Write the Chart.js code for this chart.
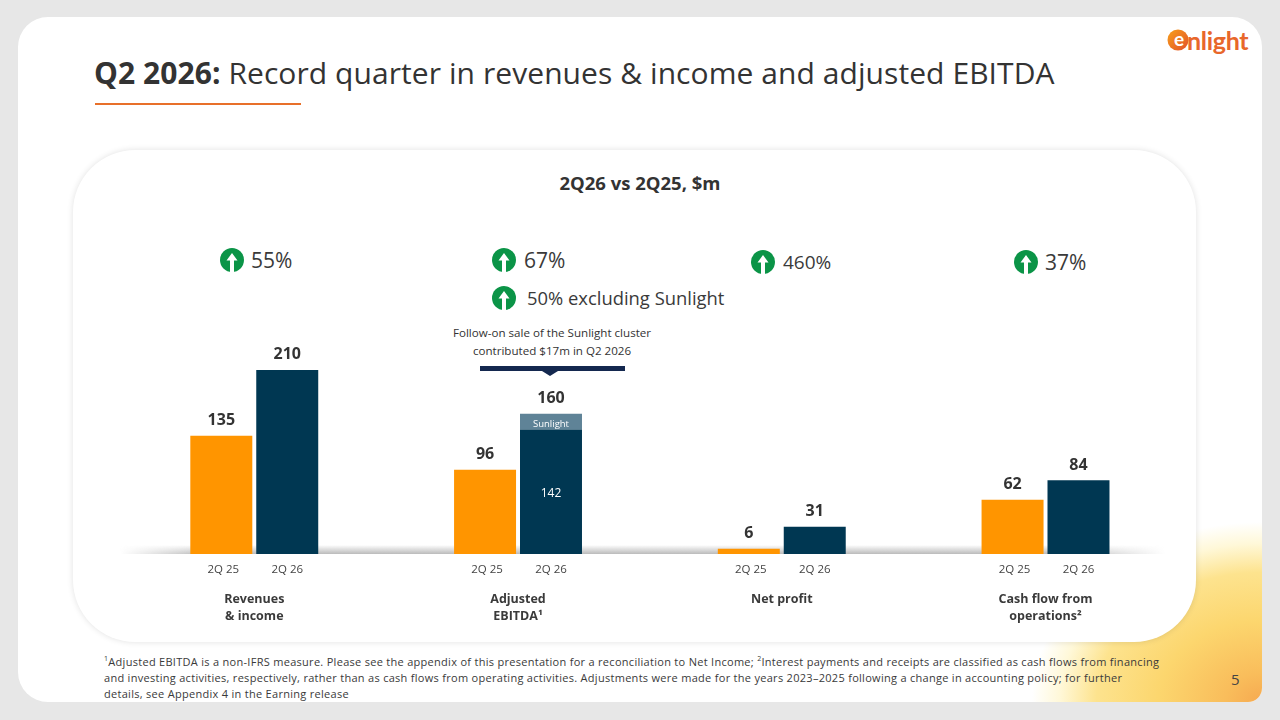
<!DOCTYPE html>
<html>
<head>
<meta charset="utf-8">
<title>Q2 2026</title>
<script src="https://cdn.jsdelivr.net/npm/chart.js@4"></script>
<style>
  html, body { margin: 0; padding: 0; width: 1280px; height: 720px; overflow: hidden; background: #e7e7e7; font-family: "Open Sans", sans-serif; color: #333; }
  .slide { position: absolute; left: 18px; top: 17px; width: 1244px; height: 685px; border-radius: 30px 30px 14px 30px; overflow: hidden; background: #fff; }
  .glow { position: absolute; left: 1014px; top: 505px; width: 230px; height: 180px;
    background: radial-gradient(ellipse 230px 180px at 100% 100%, #f6a950 0%, #f9bd5b 16%, #fcd66e 45%, #fde38e 72%, rgba(255,245,200,.7) 88%, rgba(255,255,255,0) 100%); }
  .card { position: absolute; left: 73px; top: 150px; width: 1123px; height: 492px; border-radius: 62px; background: #fff; box-shadow: 0 0 6px rgba(0,0,0,.12); }
  .baseline { position: absolute; left: 120px; top: 545px; width: 1045px; height: 9px;
    background: linear-gradient(to bottom, rgba(150,150,150,0), rgba(150,150,150,.65));
    -webkit-mask-image: linear-gradient(to right, transparent, #000 8%, #000 90%, transparent); }
  canvas { position: absolute; left: 0; top: 0; }
  .t { position: absolute; white-space: nowrap; }
  .title { left: 94px; top: 52px; font-size: 30px; line-height: 42px; letter-spacing: .07px; color: #333; }
  .rule { position: absolute; left: 95px; top: 103px; width: 206px; height: 2px; background: #e8702a; }
  .sub { left: 440px; width: 400px; top: 171px; text-align: center; font-size: 18.5px; line-height: 24px; font-weight: 700; }
  .pct { font-size: 21px; line-height: 28px; color: #3a3a3a; }
  .note { left: 452px; width: 200px; top: 324px; text-align: center; font-size: 11.6px; line-height: 18px; }
  .foot { left: 104px; top: 654px; font-size: 11px; line-height: 16px; letter-spacing: .29px; color: #3a3a3a; }
  .foot sup { font-size: 7px; line-height: 0; }
  .page { left: 1231px; top: 669px; font-size: 15px; line-height: 20px; color: #444; }
  .logo { left: 1187px; top: 24px; font-family: "Lato", sans-serif; font-weight: 700; font-size: 25px; line-height: 32px; color: #e8672b; letter-spacing: -.3px; }
  svg.ic { position: absolute; }
</style>
</head>
<body>
<div class="slide"><div class="glow"></div></div>
<div class="card"></div>
<div class="baseline"></div>

<div class="t title"><b>Q2 2026:</b> Record quarter in revenues &amp; income and adjusted EBITDA</div>
<div class="rule"></div>
<svg class="ic" style="left:1167px;top:29px" width="22" height="22" viewBox="0 0 22 22">
  <defs><linearGradient id="lg" x1="0" y1="0" x2="1" y2="1"><stop offset="0" stop-color="#f7a01c"/><stop offset="1" stop-color="#e2502a"/></linearGradient></defs>
  <circle cx="11" cy="11" r="10.5" fill="url(#lg)"/>
  <text x="12" y="17" text-anchor="middle" font-family="Lato" font-weight="700" font-size="19" fill="#fff">e</text>
</svg>
<div class="t logo">nlight</div>
<div class="t sub">2Q26 vs 2Q25, $m</div>
<div id="badges"></div>
<div class="t note">Follow-on sale of the Sunlight cluster<br>contributed $17m in Q2 2026</div>
<svg class="ic" style="left:480px;top:366px" width="145" height="11" viewBox="0 0 145 11">
  <path d="M0 0H145V5H78L70 10L62 5H0Z" fill="#14284f"/>
</svg>
<div class="t foot"><sup>1</sup>Adjusted EBITDA is a non-IFRS measure. Please see the appendix of this presentation for a reconciliation to Net Income; <sup>2</sup>Interest payments and receipts are classified as cash flows from financing<br>and investing activities, respectively, rather than as cash flows from operating activities. Adjustments were made for the years 2023–2025 following a change in accounting policy; for further<br>details, see Appendix 4 in the Earning release</div>
<div class="t page">5</div>

<canvas id="chart" width="1280" height="720"></canvas>

<script>
/* ─────────────────────────────────────────────
   Data
───────────────────────────────────────────── */
const categories = [['Revenues', '& income'], ['Adjusted', 'EBITDA¹'], ['Net profit'], ['Cash flow from', 'operations²']];
const periods = ['2Q 25', '2Q 26'];
const prior = [135, 96, 6, 62];
const current = [210, 142, 31, 84];
const sunlight = [0, 18, 0, 0];
const totals = [210, 160, 31, 84];
const growthLabels = ['55%', '67%', '460%', '37%', '50% excluding Sunlight'];
const growthLeft = [251, 524, 783, 1045, 527];
const growthTop = [246, 246, 248, 248, 284];
const growthSize = [21, 21, 19, 21, 18.4];
const iconLeft = [220, 492, 751, 1014, 492];

const colors = { orange: '#ff9500', navy: '#003752', sunlight: '#5f8397', ink: '#333333', green: '#0b9447' };
const fontFamily = '"Open Sans", sans-serif';

/* ─────────────────────────────────────────────
   Growth badges
───────────────────────────────────────────── */
const badges = document.getElementById('badges');
growthLabels.forEach((label, i) => {
  const mid = growthTop[i] + 14;
  badges.insertAdjacentHTML('beforeend',
    `<svg class="ic" style="left:${iconLeft[i]}px;top:${mid - 12}px" width="24" height="24" viewBox="0 0 24 24">
       <circle cx="12" cy="12" r="12" fill="${colors.green}"/>
       <path d="M12 5L17.5 12.5H14V24H10V12.5H6.5Z" fill="#fff"/>
     </svg>
     <div class="t pct" style="left:${growthLeft[i]}px;top:${growthTop[i]}px;font-size:${growthSize[i]}px">${label}</div>`);
});

/* ─────────────────────────────────────────────
   Labels drawn on the bars
───────────────────────────────────────────── */
const barLabels = {
  id: 'barLabels',
  afterDatasetsDraw(chart) {
    const { ctx } = chart;
    const priorBars = chart.getDatasetMeta(0).data;
    const currentBars = chart.getDatasetMeta(1).data;
    const sunlightBars = chart.getDatasetMeta(2).data;
    ctx.save();
    ctx.textAlign = 'center';
    ctx.textBaseline = 'middle';

    categories.forEach((_, i) => {
      const stackTop = sunlight[i] ? sunlightBars[i].y : currentBars[i].y;

      ctx.fillStyle = colors.ink;
      ctx.font = `700 16px ${fontFamily}`;
      ctx.fillText(prior[i], priorBars[i].x, priorBars[i].y - 15);
      ctx.fillText(totals[i], currentBars[i].x, stackTop - 15);

      ctx.font = `400 11.5px ${fontFamily}`;
      ctx.fillStyle = '#444';
      ctx.fillText(periods[0], priorBars[i].x + 2, 570);
      ctx.fillText(periods[1], currentBars[i].x, 570);

      if (sunlight[i]) {
        ctx.fillStyle = '#fff';
        ctx.font = `400 9.5px ${fontFamily}`;
        ctx.fillText('Sunlight', sunlightBars[i].x, (sunlightBars[i].y + sunlightBars[i].base) / 2 + 3);
        ctx.font = `400 12px ${fontFamily}`;
        ctx.fillText(current[i], currentBars[i].x, 494);
      }
    });
    ctx.restore();
  }
};

/* ─────────────────────────────────────────────
   Chart
───────────────────────────────────────────── */
const barStyle = { barPercentage: 0.94, categoryPercentage: 0.5, borderWidth: 0 };

new Chart(document.getElementById('chart'), {
  type: 'bar',
  data: {
    labels: categories,
    datasets: [
      { label: periods[0], data: prior, backgroundColor: colors.orange, stack: 'prior', ...barStyle },
      { label: periods[1], data: current, backgroundColor: colors.navy, stack: 'current', ...barStyle },
      { label: 'Sunlight', data: sunlight, backgroundColor: colors.sunlight, stack: 'current', ...barStyle }
    ]
  },
  options: {
    responsive: false,
    animation: false,
    layout: { padding: { left: 122.4, right: 102.6, top: 291, bottom: 0 } },
    plugins: { legend: { display: false }, tooltip: { enabled: false } },
    scales: {
      x: {
        stacked: true,
        grid: { display: false },
        border: { display: false },
        afterFit: (scale) => { scale.height = 166; },
        ticks: {
          padding: 29,
          maxRotation: 0,
          autoSkip: false,
          color: '#3a3a3a',
          font: { family: fontFamily, size: 12.5, weight: '700', lineHeight: 1.35 }
        }
      },
      y: { display: false, stacked: true, min: 0, max: 300 }
    }
  },
  plugins: [barLabels]
});
</script>
</body>
</html>
